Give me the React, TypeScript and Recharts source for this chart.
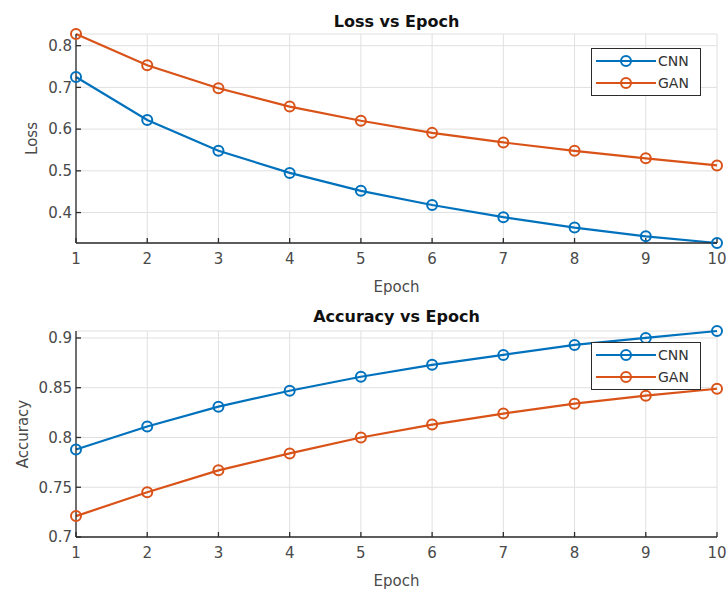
import { LineChart, Line, XAxis, YAxis, CartesianGrid, Legend } from 'recharts';

const epochs = [1, 2, 3, 4, 5, 6, 7, 8, 9, 10];

// loss values per epoch
const lossCnn = [0.725, 0.622, 0.548, 0.495, 0.452, 0.418, 0.389, 0.364, 0.343, 0.327];
const lossGan = [0.828, 0.753, 0.698, 0.654, 0.62, 0.591, 0.568, 0.548, 0.53, 0.513];

// accuracy values per epoch
const accCnn = [0.788, 0.811, 0.831, 0.847, 0.861, 0.873, 0.883, 0.893, 0.9, 0.907];
const accGan = [0.721, 0.745, 0.767, 0.784, 0.8, 0.813, 0.824, 0.834, 0.842, 0.849];

const lossTicks = [0.4, 0.5, 0.6, 0.7, 0.8];
const accTicks = [0.7, 0.75, 0.8, 0.85, 0.9];

const lossData = epochs.map((e, i) => ({ epoch: e, cnn: lossCnn[i], gan: lossGan[i] }));
const accData = epochs.map((e, i) => ({ epoch: e, cnn: accCnn[i], gan: accGan[i] }));

const BLUE = '#0072BD';
const ORANGE = '#D95319';
const FONT = '"DejaVu Sans", sans-serif';
const AXIS = '#2b2b2b';
const TICK = { fontSize: 15, fill: '#4a4a4a', fontFamily: FONT };
const blank = () => '';

function LegendBox(props: any) {
  const items = props.payload || [];
  return (
    <svg width={110} height={48} style={{ display: 'block' }}>
      <rect x={0.5} y={0.5} width={109} height={47} fill="#fff" stroke={AXIS} />
      {items.map((it: any, i: number) => {
        const cy = 13 + i * 22;
        return (
          <g key={it.value}>
            <line x1={5} x2={65} y1={cy} y2={cy} stroke={it.color} strokeWidth={2.2} />
            <circle cx={35} cy={cy} r={5} fill="none" stroke={it.color} strokeWidth={2} />
            <text x={67} y={cy + 5} fontSize={14} fill="#333" fontFamily={FONT}>
              {it.value}
            </text>
          </g>
        );
      })}
    </svg>
  );
}

function Panel(props: {
  data: any[];
  height: number;
  top: number;
  title: string;
  yLabel: string;
  yLabelX: number;
  yTicks: number[];
  yDomain: any;
  legendTop: number;
  titleY: number;
}) {
  const { data, height, top, title, yLabel, yLabelX, yTicks, yDomain, legendTop, titleY } = props;
  return (
    <div style={{ position: 'absolute', left: 0, top: top }}>
      <div
        style={{
          position: 'absolute',
          left: 76,
          width: 641,
          top: titleY - 10,
          lineHeight: '20px',
          textAlign: 'center',
          fontFamily: FONT,
          fontWeight: 'bold',
          fontSize: 16,
          color: '#111',
          zIndex: 2,
        }}
      >
        {title}
      </div>
      <LineChart
        width={726}
        height={height}
        data={data}
        margin={{ top: height === 300 ? 34 : 41, right: 9, left: 0, bottom: height === 300 ? 13 : 11 }}
      >
        <CartesianGrid stroke="#e0e0e0" xAxisId="x" yAxisId="y" />
        <XAxis
          xAxisId="x"
          dataKey="epoch"
          type="number"
          domain={[1, 10]}
          ticks={epochs}
          height={44}
          stroke={AXIS}
          strokeWidth={1.3}
          tickSize={-5}
          tickMargin={15}
          tick={TICK}
          label={{ value: 'Epoch', position: 'insideBottom', offset: -5, fill: '#4a4a4a', fontSize: 15, fontFamily: FONT }}
        />
        <XAxis
          xAxisId="xt"
          dataKey="epoch"
          type="number"
          orientation="top"
          domain={[1, 10]}
          ticks={epochs}
          height={0}
          stroke={AXIS}
          strokeWidth={1.3}
          tickSize={-5}
          tickFormatter={blank}
        />
        <YAxis
          yAxisId="y"
          type="number"
          domain={yDomain}
          ticks={yTicks}
          width={76}
          stroke={AXIS}
          strokeWidth={1.3}
          tickSize={-5}
          tickMargin={9}
          tick={TICK}
          label={{
            value: yLabel,
            angle: -90,
            position: 'insideLeft',
            offset: yLabelX,
            fill: '#4a4a4a',
            fontSize: 15,
            fontFamily: FONT,
            style: { textAnchor: 'middle' },
          }}
        />
        <YAxis
          yAxisId="yr"
          orientation="right"
          type="number"
          domain={yDomain}
          ticks={yTicks}
          width={0}
          stroke={AXIS}
          strokeWidth={1.3}
          tickSize={-5}
          tickFormatter={blank}
        />
        <Legend
          layout="horizontal"
          verticalAlign="middle"
          content={<LegendBox />}
          wrapperStyle={{ left: 591, top: legendTop, width: 110, height: 48 }}
        />
        <Line
          xAxisId="x"
          yAxisId="y"
          type="linear"
          dataKey="cnn"
          name="CNN"
          stroke={BLUE}
          strokeWidth={2.2}
          dot={{ r: 5, stroke: BLUE, strokeWidth: 2, fill: 'none' }}
          activeDot={false}
          isAnimationActive={false}
        />
        <Line
          xAxisId="x"
          yAxisId="y"
          type="linear"
          dataKey="gan"
          name="GAN"
          stroke={ORANGE}
          strokeWidth={2.2}
          dot={{ r: 5, stroke: ORANGE, strokeWidth: 2, fill: 'none' }}
          activeDot={false}
          isAnimationActive={false}
        />
      </LineChart>
    </div>
  );
}

export default function App() {
  return (
    <div style={{ position: 'absolute', left: 0, top: 0, width: 726, height: 592, background: '#fff' }}>
      <Panel
        data={lossData}
        height={300}
        top={0}
        title="Loss vs Epoch"
        yLabel="Loss"
        yLabelX={32}
        yTicks={lossTicks}
        yDomain={['dataMin', 'dataMax']}
        legendTop={48}
        titleY={22}
      />
      <Panel
        data={accData}
        height={302}
        top={290}
        title="Accuracy vs Epoch"
        yLabel="Accuracy"
        yLabelX={23}
        yTicks={accTicks}
        yDomain={[0.7, 'dataMax']}
        legendTop={52}
        titleY={27}
      />
    </div>
  );
}
